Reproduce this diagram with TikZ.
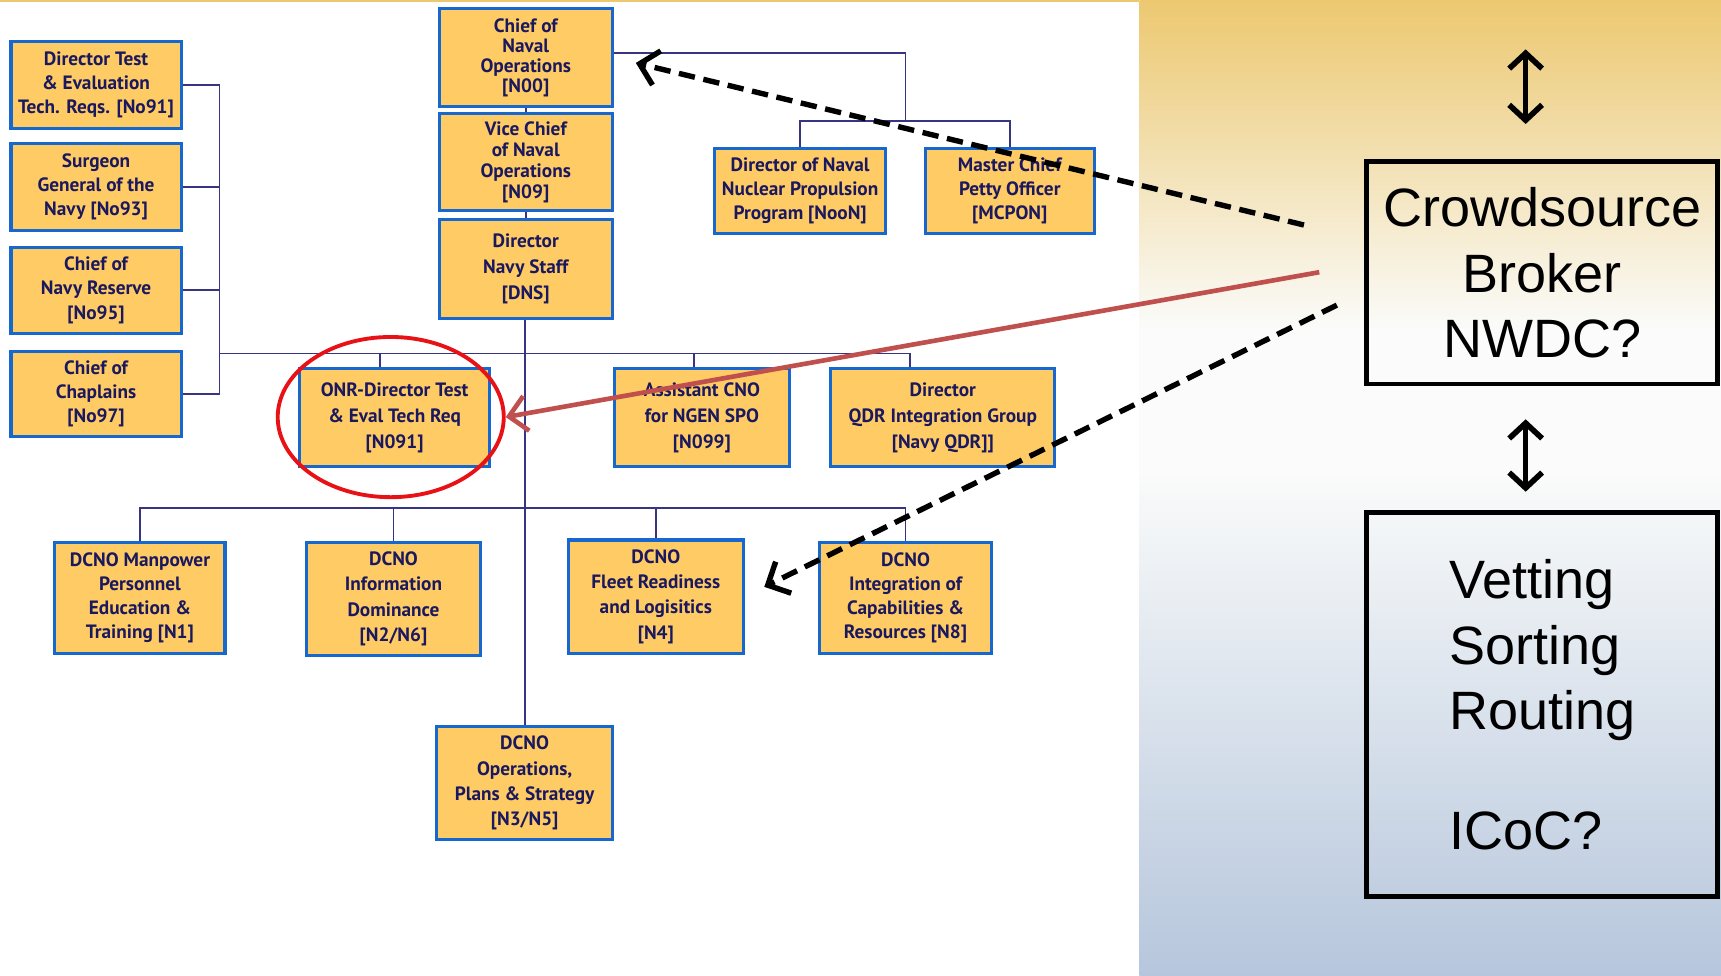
\documentclass[tikz,border=0pt]{standalone}
\usepackage{fontspec}
\usepackage{tikz}
\usetikzlibrary{shapes}
\usetikzlibrary{arrows.meta}
\newfontfamily\orgfont{PT Sans}
\newfontfamily\slidefont{Liberation Sans}
\definecolor{boxfill}{RGB}{255,203,100}
\definecolor{boxline}{RGB}{22,104,206}
\definecolor{boxtext}{RGB}{26,24,94}
\definecolor{linkcol}{RGB}{55,52,130}
\definecolor{ringred}{RGB}{232,18,22}
\definecolor{pointred}{RGB}{192,80,77}
\definecolor{panelgold}{RGB}{236,200,112}
\definecolor{panelwhite}{RGB}{250,251,250}
\definecolor{panelblue}{RGB}{182,198,220}

\begin{document}
\begin{tikzpicture}[x=0.02cm, y=-0.02cm,
    org/.style={rectangle, draw=boxline, fill=boxfill, line width=1.6pt, inner sep=0pt,
        align=center, text=boxtext, font=\orgfont\bfseries\fontsize{10}{12.5}\selectfont},
    link/.style={draw=linkcol, line width=0.9pt},
    hint/.style={line width=2.8pt, dash pattern=on 8.5pt off 4.5pt,
        -{Straight Barb[length=3.2mm,width=6.4mm]}},
    dbl/.style={line width=2.9pt,
        {Straight Barb[length=2.8mm,width=6mm]}-{Straight Barb[length=2.8mm,width=6mm]}},
    slide/.style={rectangle, draw=black, line width=2.3pt, minimum width=6.4cm,
        font=\slidefont\fontsize{28}{34}\selectfont}]
    \useasboundingbox (0,0) rectangle (1568,889);

    % background
    \fill[panelgold] (0,0) rectangle (1038,1.5);
    \shade[top color=panelgold, bottom color=panelwhite] (1038,0) rectangle (1568,300);
    \fill[panelwhite] (1038,299) rectangle (1568,431);
    \shade[top color=panelwhite, bottom color=panelblue] (1038,430) rectangle (1568,889);

    % left column
    \node[org, minimum width=3.1cm, minimum height=1.58cm] (tande) at (87.5,77.5) {Director Test\\ \& Evaluation\\ Tech. Reqs. [No91]};
    \node[org, minimum width=3.1cm, minimum height=1.58cm] (surgeon) at (87.5,170.5) {Surgeon\\ General of the\\ Navy [No93]};
    \node[org, minimum width=3.1cm, minimum height=1.56cm] (reserve) at (87.5,264.5) {Chief of\\ Navy Reserve\\ {[No95]}};
    \node[org, minimum width=3.1cm, minimum height=1.56cm] (chaplains) at (87.5,359) {Chief of\\ Chaplains\\ {[No97]}};

    % top of the chain
    \node[org, minimum width=3.16cm, minimum height=1.78cm, font=\orgfont\bfseries\fontsize{10}{10.4}\selectfont] (cno) at (479,52.5) {Chief of\\ Naval\\ Operations\\ {[N00]}};
    \node[org, minimum width=3.16cm, minimum height=1.78cm, font=\orgfont\bfseries\fontsize{10}{10.9}\selectfont] (vcno) at (479,147.5) {Vice Chief\\ of Naval\\ Operations\\ {[N09]}};
    \node[org, minimum width=3.16cm, minimum height=1.8cm, font=\orgfont\bfseries\fontsize{10}{13.6}\selectfont] (dns) at (479,245) {Director\\ Navy Staff\\ {[DNS]}};
    \node[org, minimum width=3.12cm, minimum height=1.56cm] (noon) at (729,174) {Director of Naval\\ Nuclear Propulsion\\ Program [NooN]};
    \node[org, minimum width=3.08cm, minimum height=1.56cm] (mcpon) at (920,174) {Master Chief\\ Petty Officer\\ {[MCPON]}};

    % middle row
    \node[org, minimum width=3.46cm, minimum height=1.78cm, font=\orgfont\bfseries\fontsize{10}{13.6}\selectfont] (n091) at (359.5,380.5) {ONR-Director Test\\ \& Eval Tech Req\\ {[N091]}};
    \node[org, minimum width=3.18cm, minimum height=1.78cm, font=\orgfont\bfseries\fontsize{10}{13.6}\selectfont] (n099) at (639.5,380.5) {Assistant CNO\\ for NGEN SPO\\ {[N099]}};
    \node[org, minimum width=4.08cm, minimum height=1.78cm, font=\orgfont\bfseries\fontsize{10}{13.6}\selectfont] (qdr) at (859,380.5) {Director\\ QDR Integration Group\\ {[Navy QDR]]}};

    % DCNOs
    \node[org, minimum width=3.1cm, minimum height=2.02cm] (n1) at (127.5,544.5) {DCNO Manpower\\ Personnel\\ Education \&\\ Training [N1]};
    \node[org, minimum width=3.18cm, minimum height=2.06cm, font=\orgfont\bfseries\fontsize{10}{13.2}\selectfont] (n26) at (358.5,545.5) {DCNO\\ Information\\ Dominance\\ {[N2/N6]}};
    \node[org, minimum width=3.18cm, minimum height=2.06cm, font=\orgfont\bfseries\fontsize{10}{13.2}\selectfont] (n4) at (597.5,543.5) {DCNO\\ Fleet Readiness\\ and Logisitics\\ {[N4]}};
    \node[org, minimum width=3.12cm, minimum height=2.02cm] (n8) at (825,544.5) {DCNO\\ Integration of\\ Capabilities \&\\ Resources [N8]};
    \node[org, minimum width=3.2cm, minimum height=2.06cm, font=\orgfont\bfseries\fontsize{10}{13.2}\selectfont] (n35) at (478,713.5) {DCNO\\ Operations,\\ Plans \& Strategy\\ {[N3/N5]}};

    % tree lines
    \coordinate (lb) at (200,322);
    \coordinate (cj) at (825,110);
    \coordinate (bb) at (478,463);
    \draw[link] (tande.east) -| (lb);
    \draw[link] (surgeon.east) -| (lb);
    \draw[link] (reserve.east) -| (lb);
    \draw[link] (chaplains.east) -| (lb);
    \draw[link] (lb) -| ([xshift=-0.6cm]qdr.north);
    \draw[link] ([xshift=-0.27cm]n091.north) -- ([xshift=-0.27cm]n091.north |- lb);
    \draw[link] ([xshift=-0.15cm]n099.north) -- ([xshift=-0.15cm]n099.north |- lb);
    \draw[link] (cno) -- (vcno) -- (dns);
    \draw[link] (dns.south -| n35.north) -- (n35.north);
    \draw[link] ([yshift=0.09cm]cno.east) -| (cj);
    \draw[link] (noon.north) |- (cj) -| (mcpon.north);
    \draw[link] (n1.north) |- (bb) -| (n8.north);
    \draw[link] (n26.north) -- (n26.north |- bb);
    \draw[link] (n4.north) -- (n4.north |- bb);

    \node[draw=ringred, line width=2pt, ellipse, minimum width=4.12cm, minimum height=2.92cm] (ring) at (356,380) {};

    % broker side
    \node[slide, minimum height=4.06cm, align=center] (broker) at (1405,248.5) {Crowdsource\\ Broker\\ NWDC?};
    \node[slide, minimum height=7cm, align=left] (vetting) at (1405,642) {Vetting\\ Sorting\\ Routing\\[28pt]ICoC?};

    \coordinate (upper) at (1390,45);
    \draw[dbl, shorten >=0.64cm] (upper) -- (broker.north -| upper);
    \draw[dbl, shorten <=0.6cm, shorten >=0.34cm] (broker.south -| upper) -- (vetting.north -| upper);

    \coordinate (hint1) at (1188,205);
    \coordinate (hint2) at (1202,248);
    \coordinate (hint3) at (1218,278);
    \draw[hint, shorten >=0.41cm] (hint1) -- (cno.east);
    \draw[pointred, line width=2.4pt, -{Straight Barb[length=3.2mm,width=6.4mm]}] (hint2) -- (ring.east);
    \draw[hint, shorten >=0.4cm] (hint3) -- (n4.east);
\end{tikzpicture}
\end{document}
